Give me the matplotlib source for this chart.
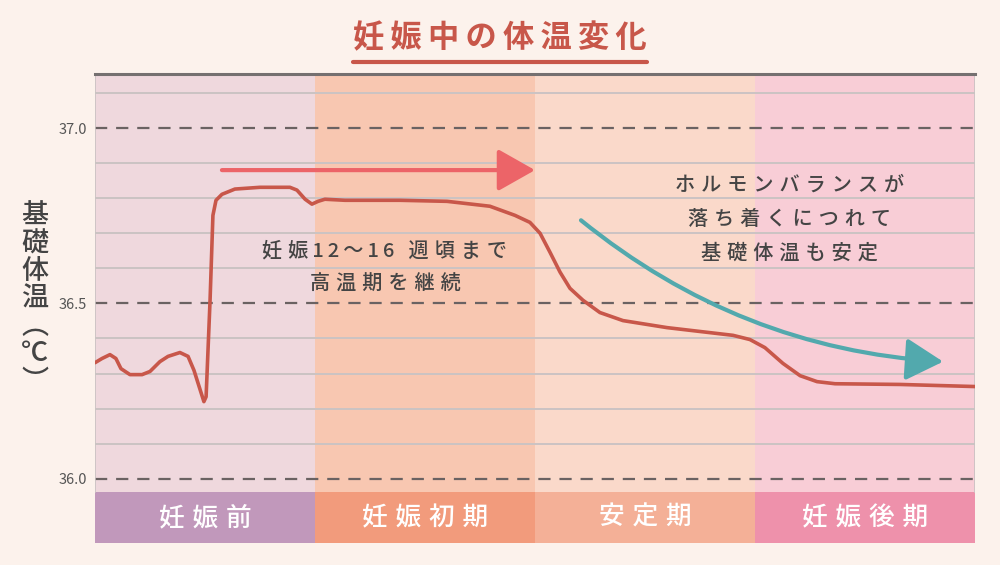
import numpy as np
import matplotlib
matplotlib.use('Agg')
import matplotlib.pyplot as plt
from matplotlib.lines import Line2D

plt.rcParams['font.family'] = ['Noto Sans CJK JP', 'DejaVu Sans']

# phases (x axis: one unit per phase)
phases = ['妊娠前', '妊娠初期', '安定期', '妊娠後期']
band_colors = ['#efd8dd', '#f8c7b1', '#fad9ca', '#f8cdd6']
label_colors = ['#c198bb', '#f29b7c', '#f4b097', '#ee91ab']

# basal body temperature curve
temp_x = [0.0, 0.032, 0.068, 0.095, 0.118, 0.159, 0.214, 0.25, 0.295, 0.332,
          0.386, 0.423, 0.45, 0.495, 0.505, 0.523, 0.536, 0.55, 0.577, 0.636,
          0.75, 0.886, 0.918, 0.955, 0.986, 1.014, 1.045, 1.136, 1.386, 1.6,
          1.795, 1.909, 1.977, 2.023, 2.068, 2.114, 2.159, 2.218, 2.295, 2.4,
          2.6, 2.9, 2.977, 3.045, 3.127, 3.205, 3.282, 3.364, 3.659, 4.0]
temp_y = [36.331, 36.343, 36.354, 36.343, 36.314, 36.297, 36.297, 36.306, 36.334, 36.349,
          36.36, 36.349, 36.309, 36.22, 36.234, 36.509, 36.751, 36.794, 36.811, 36.826,
          36.831, 36.831, 36.823, 36.797, 36.783, 36.791, 36.797, 36.794, 36.794, 36.791,
          36.777, 36.751, 36.731, 36.7, 36.646, 36.589, 36.543, 36.509, 36.474, 36.451,
          36.431, 36.409, 36.397, 36.374, 36.329, 36.294, 36.277, 36.271, 36.269, 36.263]

yticks = [36.0, 36.5, 37.0]
yticklabels = ['36.0', '36.5', '37.0']
minor_grid = [36.1, 36.2, 36.3, 36.4, 36.6, 36.7, 36.8, 36.9, 37.1]

# arrows (start, end)
high_arrow = [(0.577, 36.88), (2.0, 36.88)]
calm_arrow = [(2.209, 36.737), (3.855, 36.334)]

note1 = ['妊娠12〜16 週頃まで', '高温期を継続']
note2 = ['ホルモンバランスが', '落ち着くにつれて', '基礎体温も安定']

ylow, yplot, ytop = 35.817, 35.963, 37.154
bg = '#fcf2ec'
txt = '#444444'


def spaced(s, gap='\u2009\u200a', small='\u2009'):
    # letter spacing, tighter around digits and the wave dash
    s = s.replace(' ', '\u2002\u2009')
    out = s[0]
    for a, b in zip(s, s[1:]):
        if a in '\u2002\u2009' or b in '\u2002\u2009':
            out += b
        elif a.isascii() or b.isascii() or '〜' in (a, b):
            out += small + b
        else:
            out += gap + b
    return out


fig = plt.figure(figsize=(10, 5.65), dpi=100)
fig.patch.set_facecolor(bg)
ax = fig.add_axes([0.095, 1 - 543 / 565, 0.88, (543 - 74) / 565])
ax.set_facecolor(bg)
ax.set_xlim(0, 4)
ax.set_ylim(ylow, ytop)

# backgrounds and label bars
xs = np.arange(len(phases)) + 0.5
ax.bar(xs, ytop - yplot, bottom=yplot, width=1.0, color=band_colors, zorder=0)
ax.bar(xs, yplot - ylow, bottom=ylow, width=1.0, color=label_colors, zorder=0)
for x, name in zip(xs, phases):
    ax.text(x, (ylow + yplot) / 2, spaced(name), color='white', fontsize=18.5,
            ha='center', va='center', fontweight='medium')

# grid
for g in minor_grid:
    ax.plot([0, 4], [g, g], color='#cbc3c3', lw=1.4, zorder=1)
for g in yticks:
    ax.plot([0, 4], [g, g], color='#6a6262', lw=1.6, ls=(0, (5.5, 4)), zorder=1)
ax.plot([0, 0], [yplot, ytop], color='#c9c2c2', lw=1.2, zorder=1)
ax.plot([4, 4], [yplot, ytop], color='#c9c2c2', lw=1.2, zorder=1)

for s in ['left', 'right', 'bottom']:
    ax.spines[s].set_visible(False)
ax.spines['top'].set_color('#757070')
ax.spines['top'].set_linewidth(2.2)
ax.set_xticks([])
ax.set_yticks(yticks)
ax.set_yticklabels(yticklabels)
ax.tick_params(axis='y', length=0, pad=6, labelsize=10.5, labelcolor='#555555')

# temperature curve
ax.plot(temp_x, temp_y, color='#c8574a', lw=2.6, solid_joinstyle='round',
        solid_capstyle='round', zorder=4)

# arrows
ax.annotate('', xy=high_arrow[1], xytext=high_arrow[0],
            arrowprops=dict(arrowstyle='-|>,head_length=23,head_width=13',
                            mutation_scale=1, color='#ec6468', lw=3,
                            shrinkA=0, shrinkB=0), zorder=3)
ax.annotate('', xy=calm_arrow[1], xytext=calm_arrow[0],
            arrowprops=dict(arrowstyle='-|>,head_length=23,head_width=13',
                            mutation_scale=1, color='#52a9ad', lw=3,
                            shrinkA=0, shrinkB=0,
                            connectionstyle='arc3,rad=0.16'), zorder=3)

# notes
for i, line in enumerate(note1):
    ax.text(1.318, 36.651 - i * 0.094, spaced(line), color=txt, fontsize=14.5,
            ha='center', va='center', fontweight='medium', zorder=5)
for i, line in enumerate(note2):
    ax.text(3.155, 36.837 - i * 0.097, spaced(line), color=txt, fontsize=14.5,
            ha='center', va='center', fontweight='medium', zorder=5)

# y label, stacked vertically
fig.text(0.035, 0.471, '\n'.join('基礎体温') + '\n︵\n℃\n︶', color=txt,
         fontsize=19.5, ha='center', va='center', linespacing=1.02,
         fontweight='medium')

# title with underline
fig.text(0.5, 1 - 38 / 565, '\u2009'.join('妊娠中の体温変化'), color='#c8574a',
         fontsize=22.5, fontweight='bold', ha='center', va='center')
fig.add_artist(Line2D([0.353, 0.647], [1 - 62 / 565, 1 - 62 / 565],
                      color='#c8574a', lw=3, solid_capstyle='round'))

fig.savefig('out.png', dpi=100, facecolor=bg)
